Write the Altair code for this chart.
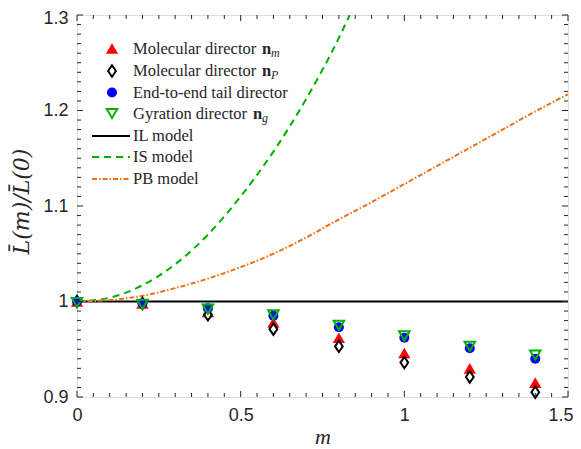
import altair as alt
import pandas as pd
import numpy as np

# ---------------- data ----------------
m_vals = [0.0, 0.2, 0.4, 0.6, 0.8, 1.0, 1.2, 1.4]
mol_nm = [1.000, 0.998, 0.989, 0.978, 0.962, 0.946, 0.930, 0.915]
mol_np = [1.000, 0.998, 0.986, 0.971, 0.953, 0.936, 0.921, 0.905]
end_to_end = [1.000, 0.998, 0.993, 0.985, 0.973, 0.962, 0.951, 0.940]
gyration = [0.999, 0.997, 0.992, 0.986, 0.975, 0.964, 0.953, 0.944]

il_m = [0.0, 1.5]
il_v = [1.0, 1.0]
is_m = [0.0, 0.1, 0.2, 0.3, 0.4, 0.5, 0.6, 0.7, 0.8, 0.833]
is_v = [1.000, 1.004, 1.017, 1.039, 1.070, 1.110, 1.157, 1.212, 1.276, 1.300]
pb_m = [0.0, 0.1, 0.2, 0.3, 0.4, 0.5, 0.6, 0.7, 0.8, 0.9, 1.0, 1.1, 1.2, 1.3, 1.4, 1.5]
pb_v = [1.000, 1.0015, 1.006, 1.014, 1.024, 1.036, 1.050, 1.067, 1.086, 1.104,
        1.123, 1.142, 1.161, 1.180, 1.199, 1.217]

x_major = [0, 0.5, 1.0, 1.5]
y_major = [0.9, 1.0, 1.1, 1.2, 1.3]

legend_labels = ["Molecular director", "Molecular director", "End-to-end tail director",
                 "Gyration director", "IL model", "IS model", "PB model"]

# ---------------- layout ----------------
W, H = 491, 382
RED, BLK, BLUE, GRN, ORG = "#ff0000", "#000000", "#0000ff", "#00b000", "#ee7016"
SERIF = "Liberation Serif"
SANS = "Liberation Sans"

xs = alt.Scale(domain=[0, 1.5], nice=False, zero=False)
ys = alt.Scale(domain=[0.9, 1.3], nice=False, zero=False)

pts = pd.DataFrame({"m": m_vals, "nm": mol_nm, "np": mol_np, "ee": end_to_end, "gy": gyration})

x_axis = alt.Axis(values=x_major, format="~g", tickSize=0, domain=False, grid=False,
                  labelFont=SANS, labelFontSize=18, labelColor="#262626", labelPadding=9,
                  labelFlush=False,
                  labelAlign=alt.expr("datum.value >= 1.5 ? 'right' : 'center'"),
                  labelOffset=alt.expr("datum.value >= 1.5 ? 5 : 0"),
                  title="m", titleFont=SERIF, titleFontStyle="italic",
                  titleFontWeight="normal", titleFontSize=22, titleColor="#262626",
                  titlePadding=2)
y_axis = alt.Axis(values=y_major, format="~g", tickSize=0, domain=False, grid=False,
                  labelFont=SANS, labelFontSize=18, labelColor="#262626", labelPadding=9,
                  labelFlush=False,
                  labelOffset=alt.expr("datum.value >= 1.3 ? 3 : 0"),
                  title="L\u0304(m)/L\u0304(0)", titleFont="DejaVu Serif",
                  titleFontStyle="italic", titleFontWeight="normal", titleFontSize=22,
                  titleColor="#262626", titlePadding=9, titleY=186)


def X(field):
    return alt.X(field, scale=xs, axis=x_axis)


def Y(field):
    return alt.Y(field, scale=ys, axis=y_axis)


il = alt.Chart(pd.DataFrame({"m": il_m, "v": il_v})).mark_line(
    color=BLK, strokeWidth=2, clip=True).encode(x=X("m:Q"), y=Y("v:Q"))
is_line = alt.Chart(pd.DataFrame({"m": is_m, "v": is_v})).mark_line(
    color=GRN, strokeWidth=2, strokeDash=[7, 5], clip=True, interpolate="monotone").encode(
    x=X("m:Q"), y=Y("v:Q"))
pb_line = alt.Chart(pd.DataFrame({"m": pb_m, "v": pb_v})).mark_line(
    color=ORG, strokeWidth=2, strokeDash=[5, 2, 1.5, 2], clip=True, interpolate="monotone").encode(
    x=X("m:Q"), y=Y("v:Q"))

DIAMOND = "M0,-1L0.68,0L0,1L-0.68,0Z"


def pt_layer(field, shape, size, filled, color, fill=None, sw=2):
    kw = dict(shape=shape, size=size, opacity=1)
    if filled:
        kw.update(filled=True, color=color, strokeWidth=0)
    else:
        kw.update(filled=False, stroke=color, strokeWidth=sw)
        if fill:
            kw.update(fill=fill, fillOpacity=1)
    return alt.Chart(pts).mark_point(**kw).encode(x=X("m:Q"), y=Y(f"{field}:Q"))


p_nm = pt_layer("nm", "triangle-up", 150, True, RED)
p_np = pt_layer("np", DIAMOND, 130, False, BLK, fill="white", sw=2)
p_ee = pt_layer("ee", "circle", 100, True, BLUE)
p_gy = pt_layer("gy", "triangle-down", 110, False, GRN, sw=2)

# ---------------- inward ticks on all sides ----------------
x_minor = [float(v) for v in np.round(np.arange(0, 1.5001, 0.05), 2)
           if not any(np.isclose(v, x_major))]
y_minor = [float(v) for v in np.round(np.arange(0.9, 1.3001, 0.01), 2)
           if not any(np.isclose(v, y_major))]


def xticks(vals, length):
    d = alt.Chart(pd.DataFrame({"m": vals}))
    bot = d.mark_rule(color="#262626", strokeWidth=1).encode(
        x=X("m:Q"), y=alt.value(H), y2=alt.value(H - length))
    top = d.mark_rule(color="#262626", strokeWidth=1).encode(
        x=X("m:Q"), y=alt.value(0), y2=alt.value(length))
    return [bot, top]


def yticks(vals, length):
    d = alt.Chart(pd.DataFrame({"v": vals}))
    lft = d.mark_rule(color="#262626", strokeWidth=1).encode(
        y=Y("v:Q"), x=alt.value(0), x2=alt.value(length))
    rgt = d.mark_rule(color="#262626", strokeWidth=1).encode(
        y=Y("v:Q"), x=alt.value(W), x2=alt.value(W - length))
    return [lft, rgt]


ticks = xticks(x_major, 6) + xticks(x_minor, 4) + yticks(y_major, 6) + yticks(y_minor, 4)

# ---------------- manual legend ----------------
one = pd.DataFrame({"a": [0]})
row_y = [33.5, 56, 77.5, 98.5, 121, 142, 164]
sym_x, txt_x = 35, 56

leg = []
leg.append(alt.Chart(one).mark_point(shape="triangle-up", size=150, filled=True, color=RED,
                                     strokeWidth=0, opacity=1).encode(
    x=alt.value(sym_x), y=alt.value(row_y[0])))
leg.append(alt.Chart(one).mark_point(shape=DIAMOND, size=130, filled=False, stroke=BLK,
                                     strokeWidth=2, opacity=1).encode(
    x=alt.value(sym_x), y=alt.value(row_y[1])))
leg.append(alt.Chart(one).mark_point(shape="circle", size=100, filled=True, color=BLUE,
                                     strokeWidth=0, opacity=1).encode(
    x=alt.value(sym_x), y=alt.value(row_y[2])))
leg.append(alt.Chart(one).mark_point(shape="triangle-down", size=110, filled=False, stroke=GRN,
                                     strokeWidth=2, opacity=1).encode(
    x=alt.value(sym_x), y=alt.value(row_y[3])))
leg.append(alt.Chart(one).mark_rule(color=BLK, strokeWidth=2).encode(
    x=alt.value(15), x2=alt.value(53), y=alt.value(row_y[4])))
leg.append(alt.Chart(one).mark_rule(color=GRN, strokeWidth=2, strokeDash=[7, 5]).encode(
    x=alt.value(15), x2=alt.value(53), y=alt.value(row_y[5])))
leg.append(alt.Chart(one).mark_rule(color=ORG, strokeWidth=2, strokeDash=[5, 2, 1.5, 2]).encode(
    x=alt.value(15), x2=alt.value(53), y=alt.value(row_y[6])))

for i, lab in enumerate(legend_labels):
    leg.append(alt.Chart(one).mark_text(text=lab, align="left", baseline="middle",
                                        font=SERIF, fontSize=16.5, color="#262626").encode(
        x=alt.value(txt_x), y=alt.value(row_y[i])))

# bold n with subscripts
bold_n = [(0, 185, "m"), (1, 185, "P"), (3, 176, "g")]
for row, nx, sub in bold_n:
    leg.append(alt.Chart(one).mark_text(text="n", align="left", baseline="middle", font=SERIF,
                                        fontSize=16.5, fontWeight="bold", color="#262626").encode(
        x=alt.value(nx), y=alt.value(row_y[row])))
    leg.append(alt.Chart(one).mark_text(text=sub, align="left", baseline="middle", font=SERIF,
                                        fontSize=12, fontStyle="italic", color="#262626").encode(
        x=alt.value(nx + 9), y=alt.value(row_y[row] + 4)))

chart = alt.layer(il, is_line, pb_line, p_nm, p_np, p_ee, p_gy, *ticks, *leg).properties(
    width=W, height=H,
    padding={"left": 69, "top": 7, "right": 5, "bottom": 52},
    autosize=alt.AutoSizeParams(type="none"),
).configure_view(stroke="#262626", strokeWidth=1).configure(background="white")

chart.save("out.html", embed_options={"renderer": "svg", "actions": False})
